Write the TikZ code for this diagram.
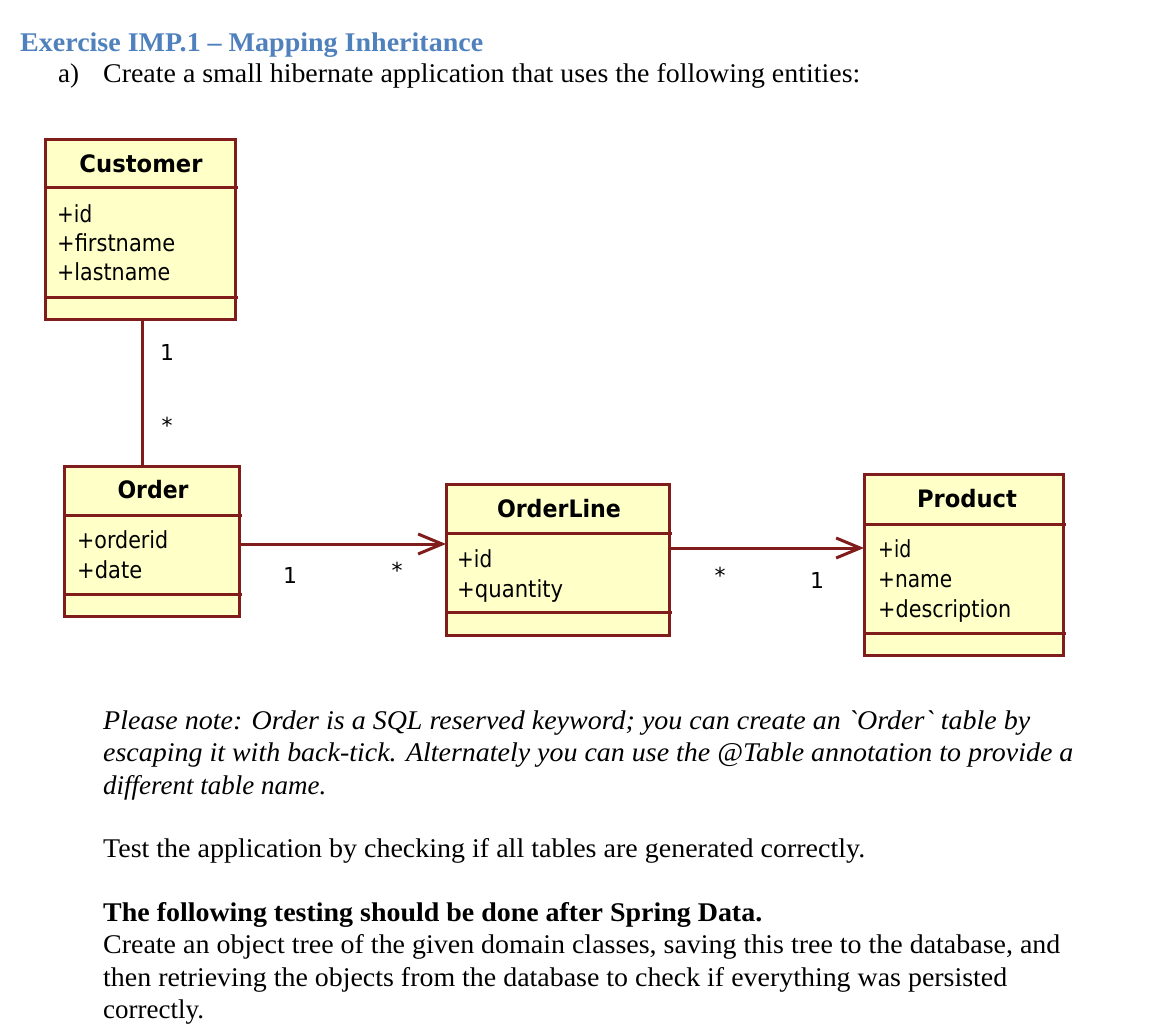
\documentclass[tikz,border=0pt]{standalone}
\usepackage{fontspec}
\setmainfont{Liberation Serif}[Ligatures=TeXOff]
\newfontfamily\umlfont{DejaVu Sans}
\usepackage{graphicx}
\usetikzlibrary{arrows.meta}
\definecolor{umlred}{RGB}{128,28,28}
\definecolor{umlfill}{RGB}{255,255,200}
\definecolor{titleblue}{RGB}{79,129,189}
\newcommand\fw[2]{\resizebox{#1pt}{\height}{#2}}
\begin{document}
\begin{tikzpicture}[x=1pt,y=-1pt,
  classbox/.style={draw=umlred, fill=umlfill, line width=3pt, rectangle, inner sep=0pt, outer sep=0pt, anchor=north west},
  sepline/.style={draw=umlred, line width=3pt},
  ctitle/.style={inner sep=0pt, anchor=base, font=\umlfont\fontsize{24}{28}\selectfont\bfseries},
  attr/.style={inner sep=0pt, anchor=base west, font=\umlfont\fontsize{23.5}{28}\selectfont},
  mult/.style={inner sep=0pt, anchor=center, font=\umlfont\fontsize{22}{26}\selectfont},
  assoc/.style={draw=umlred, line width=3pt, -{Straight Barb[length=24pt,width=20pt]}},
  body/.style={inner sep=0pt, anchor=base west, font=\fontsize{27}{32}\selectfont},
]
\fill[white] (0,0) rectangle (1162,1029);
\useasboundingbox (0,0) rectangle (1162,1029);

% heading text
\node[body, text=titleblue, font=\fontsize{27}{32}\selectfont\bfseries] (title) at (20,51) {\fw{463}{Exercise IMP.1 – Mapping Inheritance}};
\node[body] (ita) at (58,82) {a)};
\node[body] (itb) at (103,82) {\fw{757}{Create a small hibernate application that uses the following entities:}};

% classes
\node[classbox, minimum width=190pt, minimum height=180pt] (cust) at (45,139) {};
\node[classbox, minimum width=175pt, minimum height=150pt] (order) at (64,466) {};
\node[classbox, minimum width=223pt, minimum height=151pt] (oline) at (446,484) {};
\node[classbox, minimum width=199pt, minimum height=181pt] (prod) at (864,474) {};

% separators
\draw[sepline] (cust.west |- 0,187) -- ([xshift=3pt]cust.east |- 0,187);
\draw[sepline] (cust.west |- 0,297) -- ([xshift=3pt]cust.east |- 0,297);
\draw[sepline] (order.west |- 0,515) -- ([xshift=3pt]order.east |- 0,515);
\draw[sepline] (order.west |- 0,594) -- ([xshift=3pt]order.east |- 0,594);
\draw[sepline] (oline.west |- 0,533) -- ([xshift=3pt]oline.east |- 0,533);
\draw[sepline] (oline.west |- 0,612) -- ([xshift=3pt]oline.east |- 0,612);
\draw[sepline] (prod.west |- 0,524) -- ([xshift=3pt]prod.east |- 0,524);
\draw[sepline] (prod.west |- 0,633) -- ([xshift=3pt]prod.east |- 0,633);

% class texts
\node[ctitle] (custt) at (141,172) {\fw{123}{Customer}};
\node[attr] (c1) at (57,222) {\fw{35}{+id}};
\node[attr] (c2) at (57,251) {\fw{118}{+firstname}};
\node[attr] (c3) at (57,280) {\fw{113}{+lastname}};

\node[ctitle] (ordert) at (153,498) {\fw{71}{Order}};
\node[attr] (o1) at (77,548) {\fw{91}{+orderid}};
\node[attr] (o2) at (77,578) {\fw{65}{+date}};

\node[ctitle] (olinet) at (559,517) {\fw{124}{OrderLine}};
\node[attr] (l1) at (457,567) {\fw{35}{+id}};
\node[attr] (l2) at (457,597) {\fw{106}{+quantity}};

\node[ctitle] (prodt) at (967,507) {\fw{100}{Product}};
\node[attr] (p1) at (878,557) {\fw{33}{+id}};
\node[attr] (p2) at (878,587) {\fw{74}{+name}};
\node[attr] (p3) at (878,617) {\fw{133}{+description}};

% connectors
\draw[sepline] ([xshift=2pt]cust.south) -- ([xshift=2pt]cust.south |- order.north);
\draw[assoc] ([yshift=-3pt]order.east) -- ([yshift=-3pt]order.east -| oline.west);
\draw[assoc] ([yshift=11.5pt]oline.east) -- ([yshift=11.5pt]oline.east -| prod.west);

% multiplicities
\node[mult] (m1) at (167,352) {1};
\node[mult] (m2) at (167,425) {*};
\node[mult] (m3) at (290,575) {1};
\node[mult] (m4) at (397,570) {*};
\node[mult] (m5) at (720,575) {*};
\node[mult] (m6) at (817,580) {1};

% note text
\node[body, font=\fontsize{27}{32}\selectfont\itshape] (n1) at (103,729) {\fw{927}{Please note: Order is a SQL reserved keyword; you can create an `Order` table by}};
\node[body, font=\fontsize{27}{32}\selectfont\itshape] (n2) at (103,761) {\fw{970}{escaping it with back-tick. Alternately you can use the @Table annotation to provide a}};
\node[body, font=\fontsize{27}{32}\selectfont\itshape] (n3) at (103,794) {different table name.};
\node[body] (t1) at (103,857) {\fw{762}{Test the application by checking if all tables are generated correctly.}};
\node[body, font=\fontsize{27}{32}\selectfont\bfseries] (b1) at (103,921) {\fw{659}{The following testing should be done after Spring Data.}};
\node[body] (r1) at (103,953) {\fw{957}{Create an object tree of the given domain classes, saving this tree to the database, and}};
\node[body] (r2) at (103,986) {\fw{904}{then retrieving the objects from the database to check if everything was persisted}};
\node[body] (r3) at (103,1018) {correctly.};
\end{tikzpicture}
\end{document}
